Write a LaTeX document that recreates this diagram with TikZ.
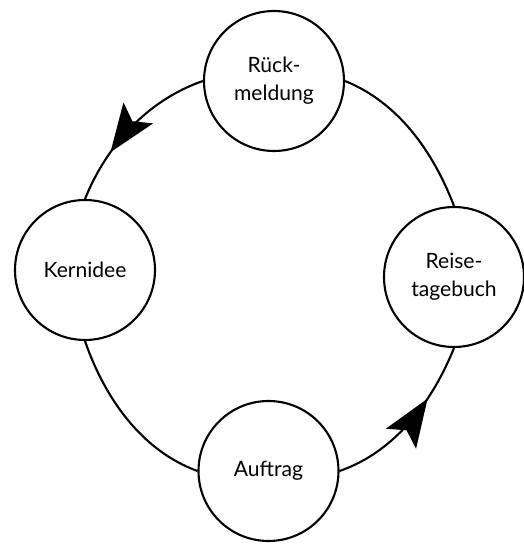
\documentclass[tikz,border=0pt]{standalone}
\usepackage{fontspec}
\setmainfont{Lato}
\usepackage{tikz}
\usetikzlibrary{arrows.meta,decorations.markings}
\tikzset{
  stage/.style={draw,circle,line width=1.2pt,fill=white,minimum size=2.8cm,
    inner sep=0pt,align=center,font=\fontsize{12}{16}\selectfont},
  cycleline/.style={line width=1.2pt,looseness=0.89},
  midarrow/.style={postaction={decorate},decoration={markings,
    mark=at position #1 with {\arrow{Stealth[length=0.96cm,width=0.72cm,inset=0.2cm]}}}}
}

\begin{document}
\begin{tikzpicture}
\useasboundingbox (0,0) rectangle (10.48,10.9);
% the four stations of the cycle
\node[stage] (rueck) at (5.48,9.28) {Rück-\\meldung};
\node[stage] (kern) at (1.70,5.50) {Kernidee};
\node[stage] (reise) at (9.08,5.36) {Reise-\\tagebuch};
\node[stage] (auftrag) at (5.37,1.48) {Auftrag};
% ring
\draw[cycleline,midarrow=0.69] (rueck.west) to[out=199,in=68] (kern.north);
\draw[cycleline] (kern.south) to[out=289,in=160] (auftrag.west);
\draw[cycleline,midarrow=0.67] (auftrag.east) to[out=19,in=248] (reise.south);
\draw[cycleline] (reise.north) to[out=111,in=338] (rueck.east);
\end{tikzpicture}
\end{document}
